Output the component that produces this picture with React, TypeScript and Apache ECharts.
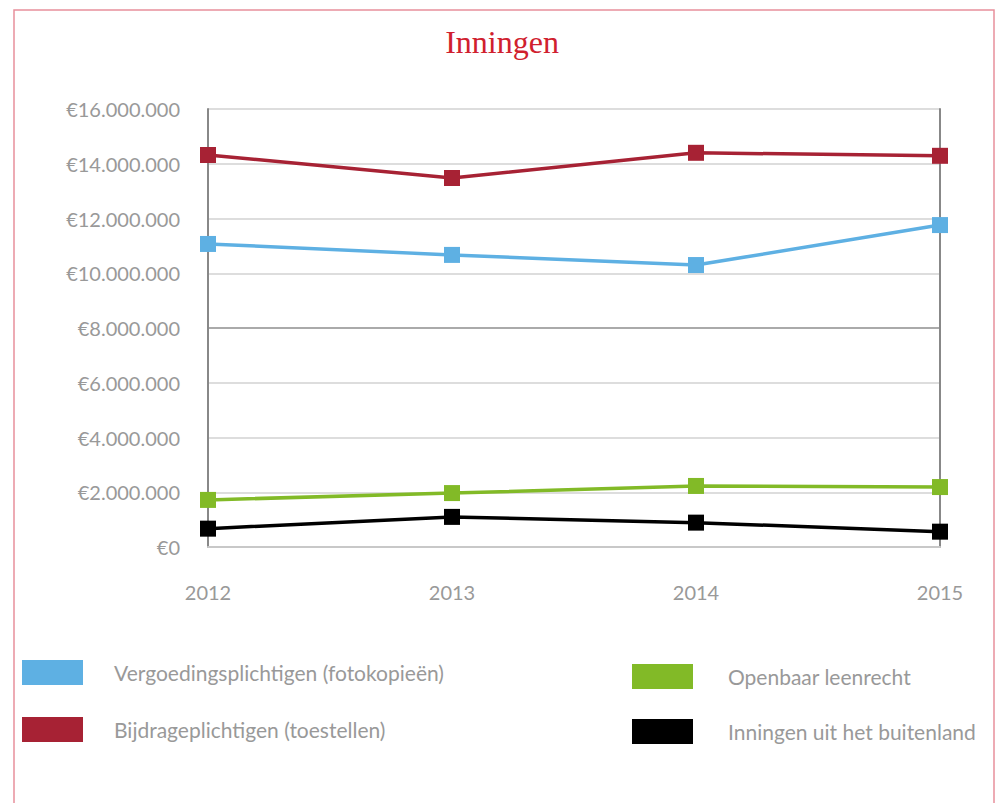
import React, { useEffect, useRef } from "react";
import * as echarts from "echarts";

const categories = ["2012", "2013", "2014", "2015"];
const seriesNames = [
  "Vergoedingsplichtigen (fotokopieën)",
  "Bijdrageplichtigen (toestellen)",
  "Openbaar leenrecht",
  "Inningen uit het buitenland",
];
const vergoeding = [11070000, 10670000, 10300000, 11760000];
const bijdrage = [14320000, 13480000, 14400000, 14290000];
const leenrecht = [1720000, 1970000, 2230000, 2190000];
const buitenland = [670000, 1100000, 890000, 560000];
const colors = ["#5eb0e3", "#a72234", "#82ba27", "#000000"];

const fmt = (v: number) => {
  if (v === 0) return "€0";
  return "€" + String(Math.round(v)).replace(/\B(?=(\d{3})+(?!\d))/g, ".");
};

export default function App() {
  const ref = useRef<HTMLDivElement>(null);
  useEffect(() => {
    const chart = echarts.init(ref.current!, null, { renderer: "svg" });
    const data = [vergoeding, bijdrage, leenrecht, buitenland];
    const labelFont = "Lato, 'Open Sans', sans-serif";
    chart.setOption({
      animation: false,
      backgroundColor: "#ffffff",
      title: {
        text: "Inningen",
        left: 497,
        textAlign: "center",
        top: 21,
        textStyle: {
          color: "#d0202e",
          fontFamily: "'Liberation Serif', serif",
          fontWeight: "normal",
          fontSize: 32,
        },
      },
      graphic: [
        {
          type: "rect",
          shape: { x: 14, y: 10, width: 980, height: 900 },
          style: { fill: "none", stroke: "#e8909c", lineWidth: 1.5 },
          silent: true,
        },
      ],
      legend: [
        {
          data: seriesNames.slice(0, 2),
          orient: "vertical",
          left: 22,
          top: 660,
          padding: 0,
          icon: "rect",
          itemWidth: 61,
          itemHeight: 25,
          itemGap: 32,
          textStyle: {
            color: "#999999",
            fontFamily: labelFont,
            fontSize: 21,
            padding: [0, 0, 0, 26],
          },
        },
        {
          data: seriesNames.slice(2, 4),
          orient: "vertical",
          left: 632,
          top: 664,
          padding: 0,
          icon: "rect",
          itemWidth: 61,
          itemHeight: 25,
          itemGap: 30,
          textStyle: {
            color: "#999999",
            fontFamily: labelFont,
            fontSize: 21,
            padding: [0, 0, 0, 30],
          },
        },
      ],
      grid: { left: 208, right: 55, top: 109, bottom: 256, containLabel: false },
      xAxis: {
        type: "category",
        data: categories,
        boundaryGap: false,
        axisLine: { show: true, lineStyle: { color: "#c8c8c8", width: 2 } },
        axisTick: { show: false },
        axisLabel: {
          color: "#999999",
          fontFamily: labelFont,
          fontSize: 20,
          margin: 35,
        },
        splitLine: { show: false },
      },
      yAxis: [
        {
          type: "value",
          min: 0,
          max: 16000000,
          interval: 2000000,
          axisLine: { show: true, lineStyle: { color: "#888888", width: 2 } },
          axisTick: { show: false },
          axisLabel: {
            color: "#999999",
            fontFamily: labelFont,
            fontSize: 20,
            margin: 28,
            formatter: (v: number) => fmt(v),
          },
          splitLine: {
            show: true,
            lineStyle: {
              color: [
                "#c8c8c8",
                "#dddddd",
                "#dddddd",
                "#dddddd",
                "#aaaaaa",
                "#dddddd",
                "#dddddd",
                "#dddddd",
                "#dddddd",
              ],
              width: 2,
            },
          },
        },
        {
          type: "value",
          position: "right",
          min: 0,
          max: 16000000,
          interval: 2000000,
          axisLine: { show: true, lineStyle: { color: "#888888", width: 2 } },
          axisTick: { show: false },
          axisLabel: { show: false },
          splitLine: { show: false },
        },
      ],
      series: seriesNames.map((name, i) => ({
        name,
        type: "line",
        data: data[i],
        yAxisIndex: 0,
        symbol: "rect",
        symbolSize: 16,
        showSymbol: true,
        lineStyle: { color: colors[i], width: 3.5 },
        itemStyle: { color: colors[i] },
        z: 10,
      })),
    });
    return () => chart.dispose();
  }, []);
  return (
    <div
      ref={ref}
      style={{ position: "absolute", left: 0, top: 0, width: 995, height: 803 }}
    />
  );
}
